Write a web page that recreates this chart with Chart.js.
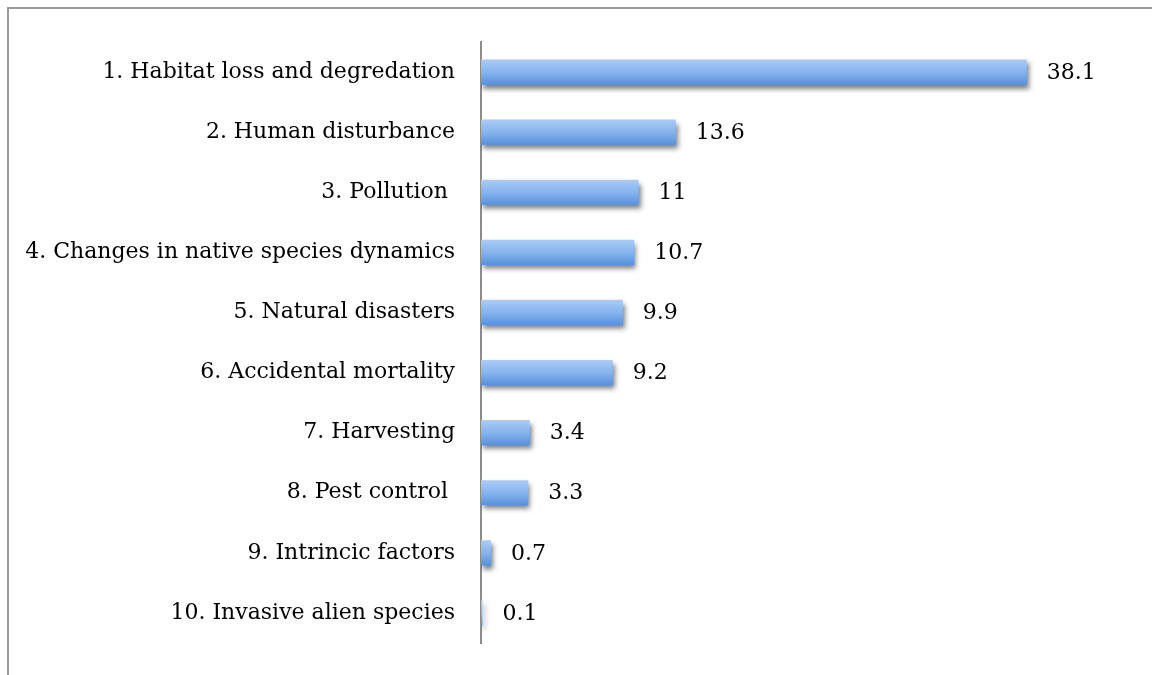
<!DOCTYPE html>
<html>
<head>
<meta charset="utf-8">
<script src="https://cdn.jsdelivr.net/npm/chart.js@4.4.1/dist/chart.umd.min.js"></script>
<style>
  html, body { margin: 0; padding: 0; background: #ffffff; }
  #wrap { position: relative; width: 1152px; height: 675px; }
</style>
</head>
<body>
<div id="wrap"><canvas id="c" width="1152" height="675"></canvas></div>
<script>
// Threat categories and their shares
const categories = [
  "1. Habitat loss and degredation",
  "2. Human disturbance",
  "3. Pollution ",
  "4. Changes in native species dynamics",
  "5. Natural disasters",
  "6. Accidental mortality",
  "7. Harvesting",
  "8. Pest control ",
  "9. Intrincic factors",
  "10. Invasive alien species"
];
const values = [38.1, 13.6, 11, 10.7, 9.9, 9.2, 3.4, 3.3, 0.7, 0.1];

const LABEL_FONT = "'DejaVu Serif', 'Liberation Serif', serif";
const LABEL_SIZE = 22;

// Vertical blue gradient for each bar
function barFill(ctx) {
  const chart = ctx.chart;
  const yScale = chart.scales && chart.scales.y;
  if (!chart.chartArea || !yScale || ctx.dataIndex === undefined) return '#7aaee9';
  const yc = yScale.getPixelForValue(ctx.dataIndex);
  const half = 12.5;
  const g = chart.ctx.createLinearGradient(0, yc - half, 0, yc + half);
  g.addColorStop(0, '#aacbf6');
  g.addColorStop(0.5, '#86b4ee');
  g.addColorStop(1, '#5891da');
  return g;
}

// Outer frame along the top and left edge
const framePlugin = {
  id: 'frame',
  beforeDraw(chart) {
    const c = chart.ctx;
    c.save();
    c.strokeStyle = '#9a9a9a';
    c.lineWidth = 2;
    c.beginPath();
    c.moveTo(8, 675);
    c.lineTo(8, 8);
    c.lineTo(1152, 8);
    c.stroke();
    c.restore();
  }
};

// Soft drop shadow under the bars
const shadowPlugin = {
  id: 'barShadow',
  beforeDatasetsDraw(chart) {
    const c = chart.ctx;
    c.save();
    c.shadowColor = 'rgba(0,0,0,0.5)';
    c.shadowBlur = 5;
    c.shadowOffsetX = 2;
    c.shadowOffsetY = 4;
  },
  afterDatasetsDraw(chart) {
    chart.ctx.restore();
  }
};

// Value labels to the right of each bar
const valueLabelPlugin = {
  id: 'valueLabels',
  afterDatasetsDraw(chart) {
    const c = chart.ctx;
    const meta = chart.getDatasetMeta(0);
    c.save();
    c.fillStyle = '#000000';
    c.font = LABEL_SIZE + "px " + LABEL_FONT;
    c.textAlign = 'left';
    c.textBaseline = 'middle';
    meta.data.forEach((bar, i) => {
      c.fillText(String(values[i]), bar.x + 20, bar.y + 1);
    });
    c.restore();
  }
};

new Chart(document.getElementById('c'), {
  type: 'bar',
  data: {
    labels: categories,
    datasets: [{
      data: values,
      backgroundColor: barFill,
      borderWidth: 0,
      barPercentage: 0.42,
      categoryPercentage: 1.0
    }]
  },
  options: {
    indexAxis: 'y',
    responsive: false,
    animation: false,
    devicePixelRatio: 1,
    layout: { padding: { top: 42, bottom: 32, left: 0, right: 98 } },
    plugins: {
      legend: { display: false },
      tooltip: { enabled: false }
    },
    scales: {
      x: {
        display: false,
        min: 0,
        max: 40
      },
      y: {
        grid: { display: false, drawTicks: false },
        border: { display: true, color: '#8c8c8c', width: 2 },
        ticks: {
          color: '#000000',
          font: { family: LABEL_FONT, size: LABEL_SIZE },
          padding: 26,
          autoSkip: false
        },
        afterFit(scale) {
          scale.width = 481;
          scale.paddingTop = 0;
          scale.paddingBottom = 0;
        }
      }
    }
  },
  plugins: [framePlugin, shadowPlugin, valueLabelPlugin]
});
</script>
</body>
</html>
